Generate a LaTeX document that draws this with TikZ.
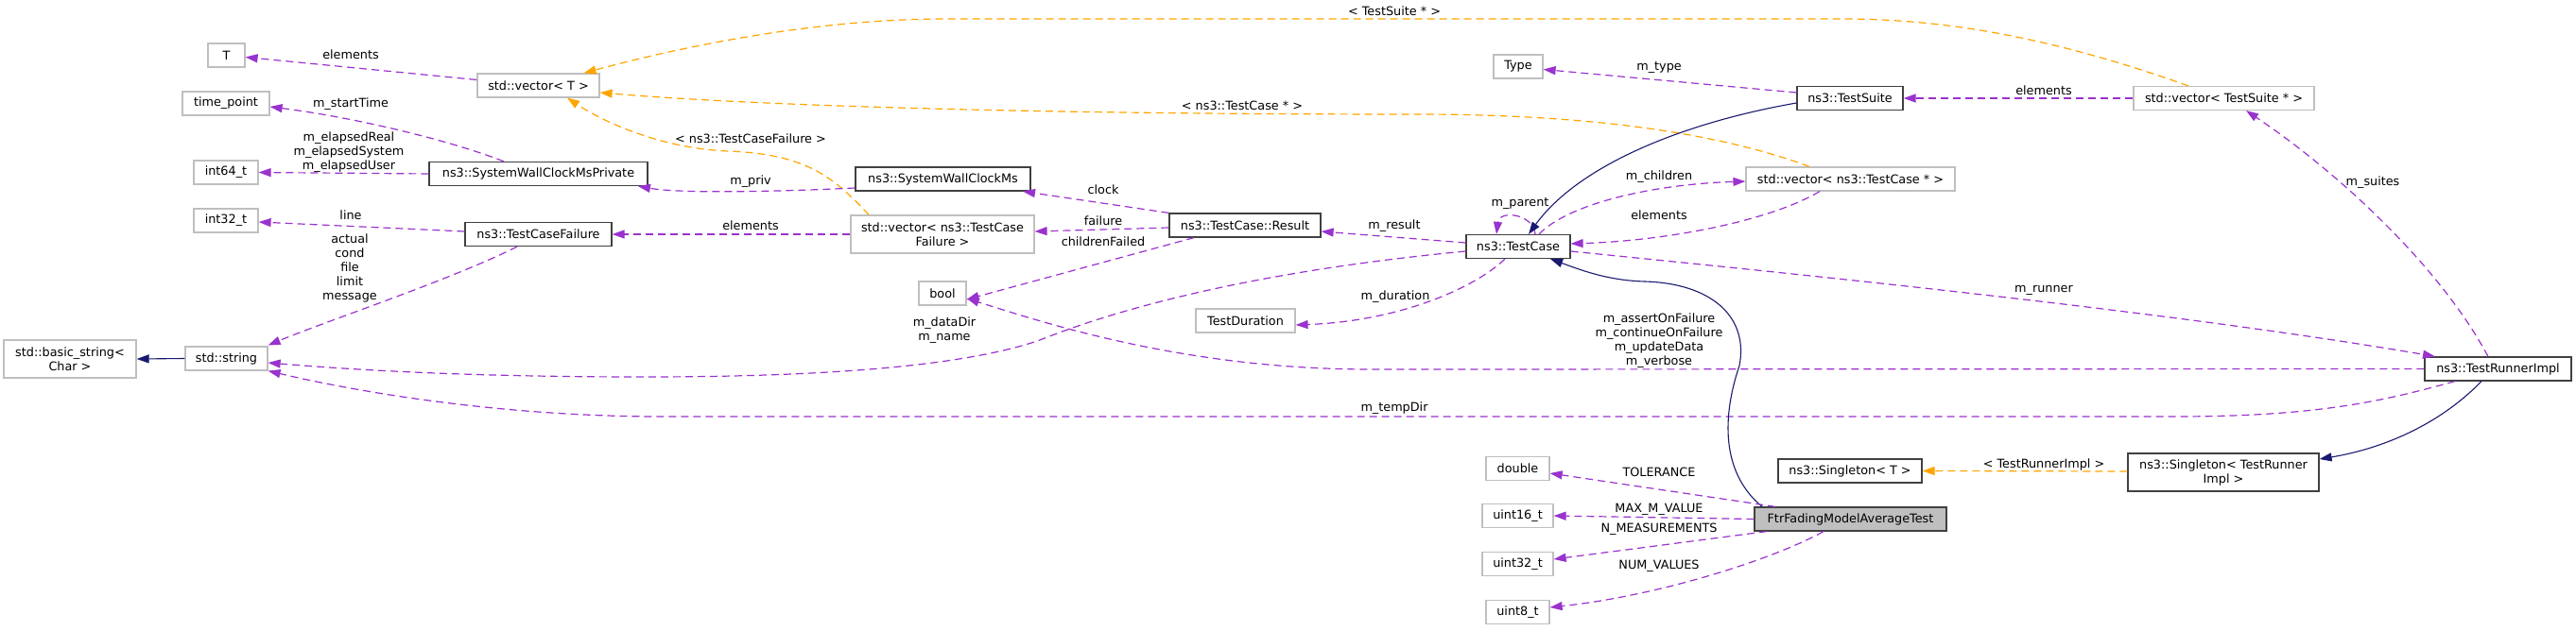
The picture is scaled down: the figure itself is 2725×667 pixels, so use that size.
\documentclass[tikz,border=0pt]{standalone}
\usepackage{fontspec}
\setmainfont{DejaVu Sans}
\usetikzlibrary{arrows.meta,calc}
\definecolor{usecol}{RGB}{154,50,205}
\definecolor{tplcol}{RGB}{255,165,0}
\definecolor{inhcol}{RGB}{25,25,112}
\definecolor{extbd}{RGB}{191,191,191}
\definecolor{docbd}{RGB}{64,64,64}
\definecolor{hlfill}{RGB}{191,191,191}
\tikzset{
  every node/.style={font=\fontsize{12.8pt}{15pt}\selectfont},
  cls/.style={draw, line width=1.2pt, fill=white, inner sep=0pt, minimum height=25pt, align=center},
  ext/.style={cls, draw=extbd},
  doc/.style={cls, draw=docbd},
  uses/.style={draw=usecol, line width=1.2pt, dash pattern=on 8pt off 5pt, -{Triangle[length=13pt,width=9pt,fill=usecol]}},
  tpl/.style={draw=tplcol, line width=1.2pt, dash pattern=on 8pt off 5pt, -{Triangle[length=13pt,width=9pt,fill=tplcol]}},
  inh/.style={draw=inhcol, line width=1.1pt, -{Triangle[length=13pt,width=9pt,fill=inhcol]}},
  lbl/.style={align=center, inner sep=0pt}
}
\begin{document}
\begin{tikzpicture}[x=1pt,y=-1pt]
\useasboundingbox (0,0) rectangle (2725,667);
% nodes
\node[ext, minimum width=39pt]  (T)      at (239.5,58.5) {T};
\node[ext, minimum width=129pt] (vecT)   at (569.5,90.5) {std::vector< T >};
\node[ext, minimum width=92pt]  (tp)     at (239,109.5) {time\_point};
\node[ext, minimum width=68pt]  (i64)    at (239,182.5) {int64\_t};
\node[doc, minimum width=231pt] (swcmp)  at (569.5,184) {ns3::SystemWallClockMsPrivate};
\node[ext, minimum width=68pt]  (i32)    at (239,233.5) {int32\_t};
\node[doc, minimum width=155pt] (tcf)    at (569.5,248) {ns3::TestCaseFailure};
\node[ext, minimum width=140pt, minimum height=40pt] (bstr) at (74,380) {std::basic\_string<\\Char >};
\node[ext, minimum width=87pt]  (str)    at (239.5,379.5) {std::string};
\node[doc, minimum width=185pt] (swcm)   at (997.5,189.5) {ns3::SystemWallClockMs};
\node[ext, minimum width=194pt, minimum height=40pt] (vtcf) at (997,248) {std::vector< ns3::TestCase\\Failure >};
\node[doc, minimum width=160pt] (res)    at (1317,238.5) {ns3::TestCase::Result};
\node[ext, minimum width=50pt]  (bool)   at (997,310.5) {bool};
\node[ext, minimum width=105pt] (dur)    at (1317.5,339.5) {TestDuration};
\node[ext, minimum width=52pt]  (type)   at (1606,70.5) {Type};
\node[doc, minimum width=112pt] (ts)     at (1957,104) {ns3::TestSuite};
\node[ext, minimum width=221pt] (vtc)    at (1957.5,189.5) {std::vector< ns3::TestCase * >};
\node[doc, minimum width=110pt] (tc)     at (1606,261) {ns3::TestCase};
\node[ext, minimum width=67pt]  (dbl)    at (1605.5,496) {double};
\node[ext, minimum width=75pt]  (u16)    at (1605.5,546) {uint16\_t};
\node[ext, minimum width=75pt]  (u32)    at (1605.5,597) {uint32\_t};
\node[ext, minimum width=67pt]  (u8)     at (1605.5,648) {uint8\_t};
\node[doc, minimum width=203pt, fill=hlfill] (ftr) at (1957.5,549.5) {FtrFadingModelAverageTest};
\node[doc, minimum width=152pt] (singT)  at (1957,498.5) {ns3::Singleton< T >};
\node[ext, minimum width=191pt] (vts)    at (2352.5,104) {std::vector< TestSuite * >};
\node[doc, minimum width=155pt] (run)    at (2642.5,390.5) {ns3::TestRunnerImpl};
\node[doc, minimum width=202pt, minimum height=40pt] (singR) at (2352,500) {ns3::Singleton< TestRunner\\Impl >};

% edges
\draw[uses] ([yshift=6]vecT.west) -- ([yshift=-2]T.east);
\draw[uses] ([xshift=-36.5]swcmp.north) .. controls (480,150) and (380,125) .. ([yshift=-3.5]tp.east);
\draw[uses] (swcmp.west) -- (i64.east);
\draw[uses] ([yshift=3]tcf.west) -- ([yshift=-1.5]i32.east);
\draw[uses] ([xshift=-22.5]tcf.south) .. controls (480,295) and (345,340) .. ([yshift=14]str.east);
\draw[inh] (str.west) -- (bstr.east);
\draw[tpl] ([xshift=-43.5]vtc.north) .. controls (1830,145) and (1700,121) .. (1500,121) .. controls (1100,121) and (800,112) .. ([yshift=-7.5]vecT.east);
\draw[tpl] ([xshift=-37.5]vts.north) .. controls (2200,50) and (2080,20) .. (1950,20) -- (1000,20) .. controls (850,20) and (700,55) .. ([xshift=48]vecT.north);
\draw[tpl] ([xshift=-78]vtcf.north) .. controls (880,185) and (850,163) .. (770,160) .. controls (700,157) and (640,130) .. ([xshift=30.5]vecT.south);
\draw[uses] ([yshift=-9.5]swcm.west) .. controls (820,203) and (720,205) .. ([xshift=105.5]swcmp.south);
\draw[uses] (vtcf.west) -- (tcf.east);
\draw[uses] (res.north west) -- ([xshift=84.5]swcm.south);
\draw[uses] ([yshift=-2.5]res.west) -- ([yshift=3]vtcf.east);
\draw[uses] ([xshift=-54]res.south) -- ([yshift=-6.5]bool.east);
\draw[uses] ([yshift=4]tc.west) -- ([yshift=-6.5]res.east);
\draw[uses] ([xshift=18]tc.north) .. controls (1622,226) and (1586,222) .. ([xshift=-23]tc.north);
\draw[uses] ([xshift=22]tc.north) .. controls (1660,215) and (1750,195) .. ([yshift=-2.5]vtc.west);
\draw[uses] ([xshift=-32.5]vtc.south) .. controls (1870,235) and (1760,255) .. ([yshift=3]tc.east);
\draw[inh] ([yshift=-5]ts.west) .. controls (1780,130) and (1670,175) .. ([xshift=11]tc.north);
\draw[uses] ([yshift=-5]tc.west) .. controls (1350,285) and (1200,320) .. (1100,360) .. controls (1000,395) and (800,399) .. (680,399) .. controls (500,399) and (380,392) .. ([yshift=-4.5]str.east);
\draw[uses] ([xshift=-14]tc.south) .. controls (1560,305) and (1480,340) .. ([yshift=-4.5]dur.east);
\draw[uses] ([yshift=-5]tc.east) .. controls (1900,290) and (2300,330) .. ([xshift=-66.5]run.north);
\draw[uses] (run.west) -- (1450,391) .. controls (1250,391) and (1100,340) .. ([yshift=-5.5]bool.east);
\draw[uses] ([xshift=-45.5]run.south) .. controls (2520,425) and (2450,441) .. (2300,441) -- (700,441) .. controls (550,441) and (400,420) .. (str.south east);
\draw[uses] ([xshift=-10.5]run.north) .. controls (2580,280) and (2470,180) .. ([xshift=23.5]vts.south);
\draw[uses] ([yshift=6]ts.west) -- ([yshift=-3]type.east);
\draw[uses] (vts.west) -- (ts.east);
\draw[inh] ([xshift=-17.5]run.south) .. controls (2580,450) and (2520,475) .. ([yshift=14]singR.east);
\draw[tpl] ([yshift=1]singR.west) -- (singT.east);
\draw[inh] ([xshift=-93.5]ftr.north) .. controls (1820,500) and (1822,440) .. (1840,387) .. controls (1850,335) and (1810,300) .. (1740,298) .. controls (1700,297) and (1670,285) .. ([xshift=34]tc.south);
\draw[uses] ([xshift=-79.5]ftr.north) -- ([yshift=-5]dbl.east);
\draw[uses] (ftr.west) -- (u16.east);
\draw[uses] ([xshift=-88.5]ftr.south) -- ([yshift=5]u32.east);
\draw[uses] ([xshift=-28.5]ftr.south) .. controls (1880,590) and (1760,630) .. ([yshift=5]u8.east);

% labels
\node[lbl] (l1)  at (371,58) {elements};
\node[lbl] (l2)  at (371,110) {m\_startTime};
\node[lbl] (l3)  at (369,161.5) {m\_elapsedReal\\m\_elapsedSystem\\m\_elapsedUser};
\node[lbl] (l4)  at (371,228) {line};
\node[lbl] (l5)  at (370,283.5) {actual\\cond\\file\\limit\\message};
\node[lbl] (l6)  at (1314,112) {< ns3::TestCase * >};
\node[lbl] (l7)  at (1475,12) {< TestSuite * >};
\node[lbl] (l8)  at (794,147) {< ns3::TestCaseFailure >};
\node[lbl] (l9)  at (794,192) {m\_priv};
\node[lbl] (l10) at (794,239) {elements};
\node[lbl] (l11) at (1167,201) {clock};
\node[lbl] (l12) at (1167,234) {failure};
\node[lbl] (l13) at (1167,256) {childrenFailed};
\node[lbl] (l14) at (1475,239) {m\_result};
\node[lbl] (l15) at (1608,216) {m\_parent};
\node[lbl] (l16) at (1755,187) {m\_children};
\node[lbl] (l17) at (1755,228) {elements};
\node[lbl] (l18) at (999,350) {m\_dataDir\\m\_name};
\node[lbl] (l19) at (1476,314) {m\_duration};
\node[lbl] (l20) at (2162,307) {m\_runner};
\node[lbl] (l21) at (1755,360.5) {m\_assertOnFailure\\m\_continueOnFailure\\m\_updateData\\m\_verbose};
\node[lbl] (l22) at (1475,432) {m\_tempDir};
\node[lbl] (l23) at (2510,193) {m\_suites};
\node[lbl] (l24) at (1755,72) {m\_type};
\node[lbl] (l25) at (2162,96) {elements};
\node[lbl] (l26) at (2162,492) {< TestRunnerImpl >};
\node[lbl] (l27) at (1755,500) {TOLERANCE};
\node[lbl] (l28) at (1755,539) {MAX\_M\_VALUE};
\node[lbl] (l29) at (1755,560) {N\_MEASUREMENTS};
\node[lbl] (l30) at (1755,599) {NUM\_VALUES};
\end{tikzpicture}
\end{document}
